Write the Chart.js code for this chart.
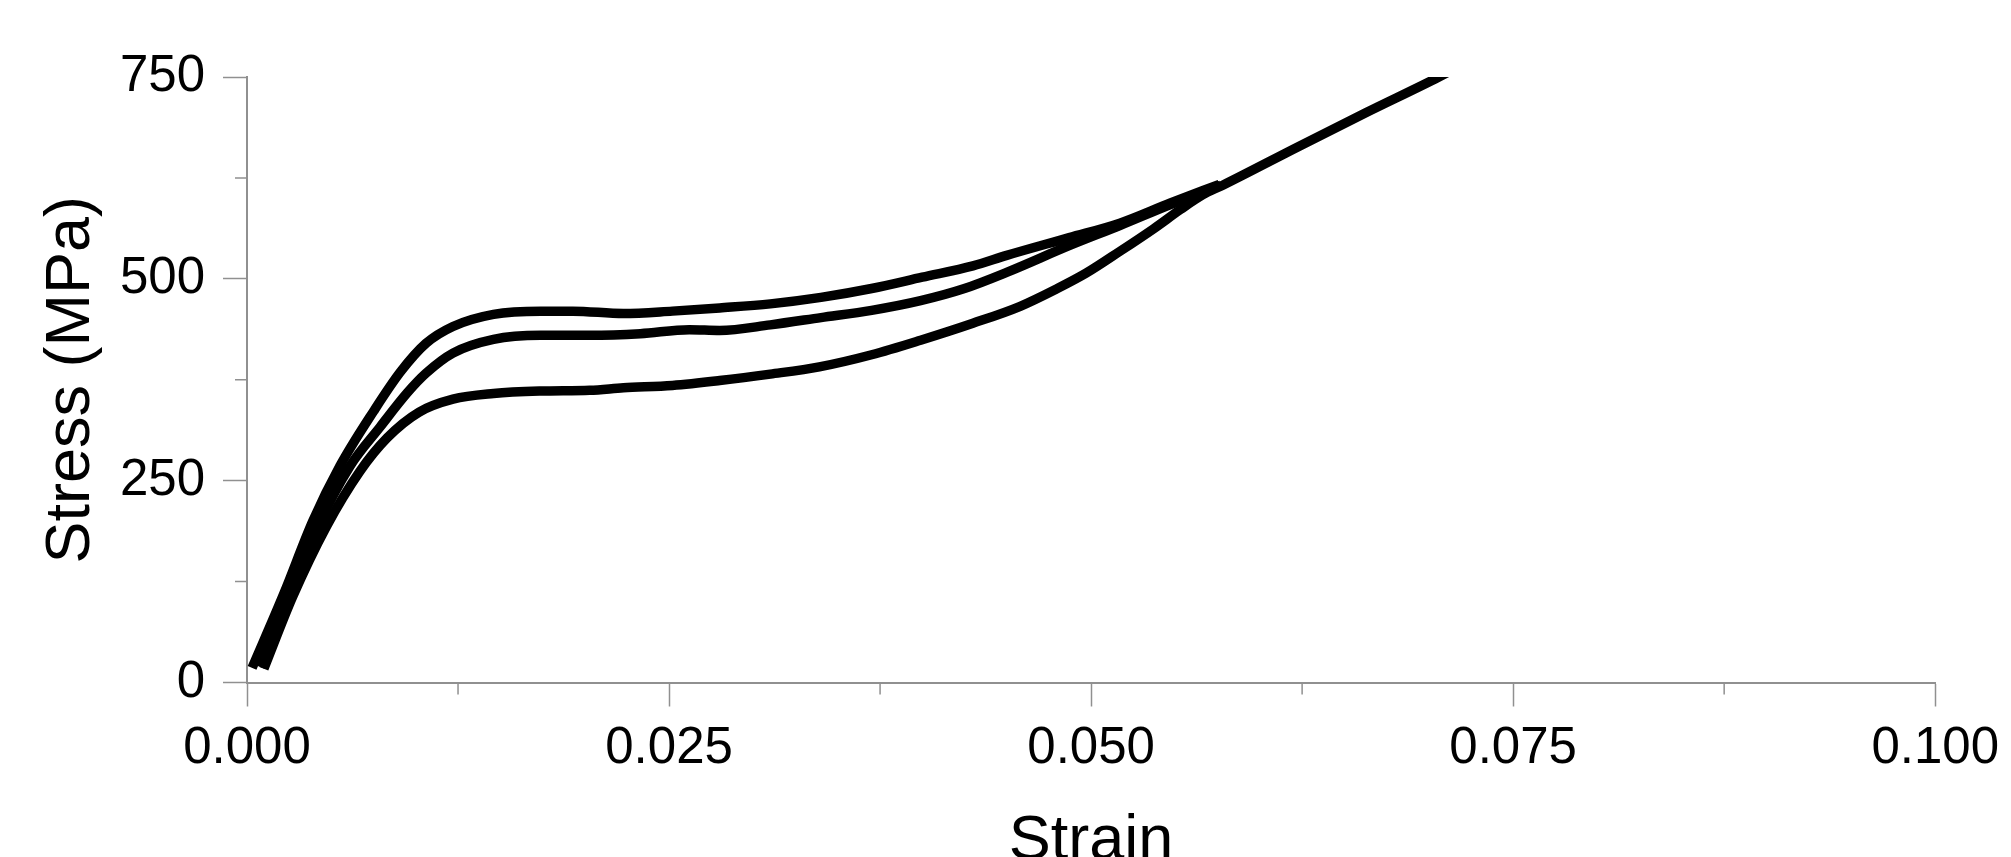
<html>
<head>
	<meta charset="UTF-8" />
	<script src="https://cdn.jsdelivr.net/npm/chart.js@4.4.0/dist/chart.umd.min.js"></script>
	<style>
		body { margin: 0; background: #ffffff; }
	</style>
</head>
<body>
	<canvas id="myChart" width="2011" height="857"></canvas>
	<script>
// curve 1 (upper plateau)
const strainA = [0.0003, 0.0022, 0.0039, 0.0055, 0.0075, 0.0091, 0.0106, 0.0122, 0.0146, 0.0174, 0.0193, 0.0223, 0.0252, 0.0280, 0.0310, 0.0340, 0.0370, 0.0400, 0.0430, 0.0450, 0.0487, 0.0517, 0.0547, 0.0576];
const stressA = [18, 111, 200, 268, 336, 385, 420, 441, 456, 460, 460, 457, 460, 464, 469, 477, 488, 502, 516, 529, 551, 569, 594, 617];
// curve 2 (middle plateau)
const strainB = [0.0008, 0.0026, 0.0043, 0.0061, 0.0079, 0.0095, 0.0106, 0.0122, 0.0146, 0.0174, 0.0203, 0.0233, 0.0262, 0.0280, 0.0310, 0.0340, 0.0370, 0.0399, 0.0425, 0.0450, 0.0487, 0.0517, 0.0547, 0.0577];
const stressB = [19, 106, 197, 268, 317, 359, 383, 408, 425, 430, 430, 432, 437, 436, 443, 452, 461, 473, 488, 508, 541, 566, 592, 616];
// curve 3 (lower plateau), continues past the meeting point
const strainC = [0.0010, 0.0027, 0.0047, 0.0067, 0.0083, 0.0102, 0.0122, 0.0146, 0.0174, 0.0203, 0.0223, 0.0252, 0.0280, 0.0310, 0.0339, 0.0370, 0.0399, 0.0430, 0.0458, 0.0480, 0.0497, 0.0517, 0.0537, 0.0553, 0.0566, 0.0578, 0.0623, 0.0663, 0.0706, 0.0724];
const stressC = [17, 106, 193, 262, 303, 335, 351, 358, 361, 362, 365, 368, 374, 382, 391, 406, 424, 445, 466, 488, 507, 534, 562, 586, 604, 616, 664, 706, 750, 770];

const strainTicks = [0, 0.025, 0.05, 0.075, 0.1];
const stressTicks = [0, 250, 500, 750];

const FONT = "'Liberation Sans', Arial, sans-serif";
const AXIS_GREY = "#909090";

function toPoints(xs, ys) {
	return xs.map((x, i) => ({ x: x, y: ys[i] }));
}
function isMajor(value, list) {
	return list.some(t => Math.abs(t - value) < 1e-9);
}

// short ticks halfway between the labelled ones
const minorTicks = {
	id: "minorTicks",
	afterDraw(chart) {
		const ctx = chart.ctx;
		const xs = chart.scales.x, ys = chart.scales.y;
		ctx.save();
		ctx.strokeStyle = AXIS_GREY;
		ctx.lineWidth = 1.5;
		ctx.beginPath();
		xs.ticks.forEach(t => {
			if (isMajor(t.value, strainTicks)) return;
			const px = xs.getPixelForValue(t.value);
			ctx.moveTo(px, xs.top);
			ctx.lineTo(px, xs.top + 12);
		});
		ys.ticks.forEach(t => {
			if (isMajor(t.value, stressTicks)) return;
			const py = ys.getPixelForValue(t.value);
			ctx.moveTo(ys.right, py);
			ctx.lineTo(ys.right - 12, py);
		});
		ctx.stroke();
		ctx.restore();
	}
};

const lineStyle = {
	showLine: true,
	borderColor: "#000000",
	borderWidth: 9.5,
	pointRadius: 0,
	cubicInterpolationMode: "monotone",
	fill: false
};

const chart = new Chart(document.getElementById("myChart").getContext("2d"), {
	type: "scatter",
	data: {
		datasets: [
			Object.assign({ label: "Sample 1", data: toPoints(strainA, stressA) }, lineStyle),
			Object.assign({ label: "Sample 2", data: toPoints(strainB, stressB) }, lineStyle),
			Object.assign({ label: "Sample 3", data: toPoints(strainC, stressC) }, lineStyle)
		]
	},
	options: {
		responsive: false,
		animation: false,
		layout: { padding: { left: 28, right: 75, top: 77, bottom: 0 } },
		scales: {
			x: {
				type: "linear",
				min: 0,
				max: 0.1,
				afterFit: (scale) => { scale.height = 174.5; },
				border: { display: true, color: AXIS_GREY, width: 2 },
				grid: {
					drawOnChartArea: false,
					drawTicks: true,
					tickLength: 24,
					tickWidth: 1.5,
					tickColor: (c) => (c.tick && isMajor(c.tick.value, strainTicks)) ? AXIS_GREY : "rgba(0,0,0,0)"
				},
				ticks: {
					stepSize: 0.0125,
					autoSkip: false,
					maxRotation: 0,
					padding: 12,
					color: "#000000",
					font: { family: FONT, size: 51 },
					callback: (v) => isMajor(v, strainTicks) ? v.toFixed(3) : ""
				},
				title: {
					display: true,
					text: "Strain",
					color: "#000000",
					padding: { top: 0, bottom: 0 },
					font: { family: FONT, size: 63, lineHeight: 0.5 }
				}
			},
			y: {
				type: "linear",
				min: 0,
				max: 750,
				afterFit: (scale) => { scale.width = 219; },
				border: { display: true, color: AXIS_GREY, width: 2 },
				grid: {
					drawOnChartArea: false,
					drawTicks: true,
					tickLength: 24,
					tickWidth: 1.5,
					tickColor: (c) => (c.tick && isMajor(c.tick.value, stressTicks)) ? AXIS_GREY : "rgba(0,0,0,0)"
				},
				ticks: {
					stepSize: 125,
					autoSkip: false,
					padding: 18,
					color: "#000000",
					font: { family: FONT, size: 51 },
					callback: (v) => isMajor(v, stressTicks) ? String(v) : ""
				},
				title: {
					display: true,
					text: "Stress (MPa)",
					color: "#000000",
					padding: { top: 6, bottom: 0 },
					font: { family: FONT, size: 63, lineHeight: 1.2 }
				}
			}
		},
		plugins: {
			legend: { display: false },
			tooltip: { enabled: false }
		}
	},
	plugins: [minorTicks]
});
	</script>
</body>
</html>
